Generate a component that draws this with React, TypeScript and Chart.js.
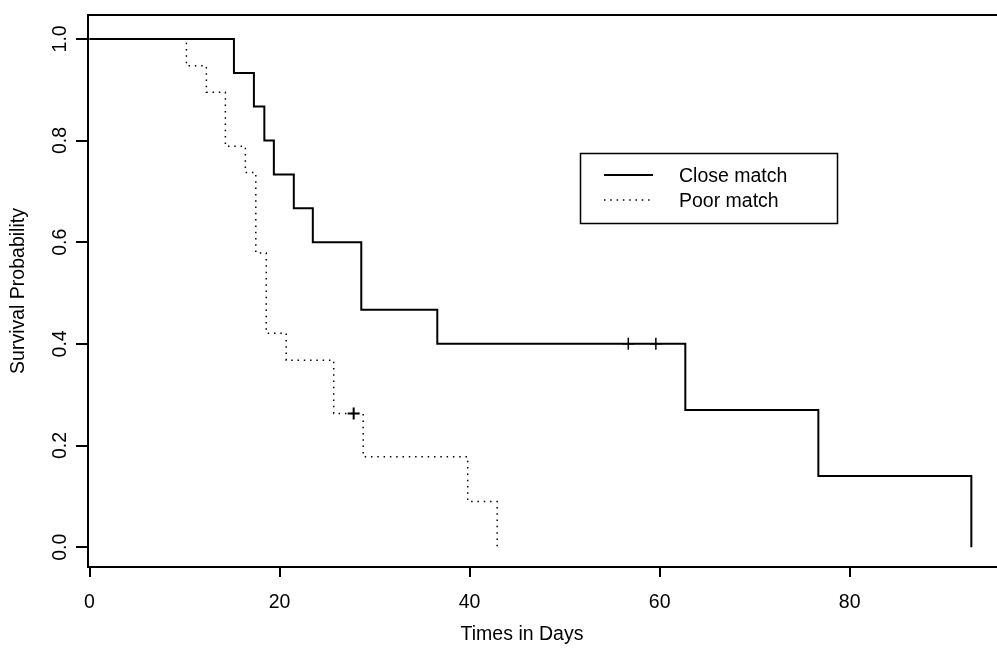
import React, { useEffect, useRef } from 'react';
import { Chart, registerables } from 'chart.js';

Chart.register(...registerables);

// ---- data ----
const seriesLabels = ['Close match', 'Poor match'];

const closeTimes = [0, 15.2, 17.3, 18.4, 19.4, 21.5, 23.5, 28.6, 36.6, 62.7, 76.7, 92.8];
const closeSurv = [1.0, 0.933, 0.867, 0.8, 0.733, 0.667, 0.6, 0.467, 0.4, 0.27, 0.14, 0.0];
const closeCensorTimes = [56.7, 59.6];
const closeCensorSurv = [0.4, 0.4];

const poorTimes = [0, 10.2, 12.3, 14.3, 16.4, 17.5, 18.6, 20.7, 25.7, 28.8, 39.8, 42.9];
const poorSurv = [1.0, 0.947, 0.895, 0.789, 0.737, 0.579, 0.421, 0.368, 0.263, 0.178, 0.09, 0.0];
const poorCensorTimes = [27.8];
const poorCensorSurv = [0.263];

const xTicks = [0, 20, 40, 60, 80];
const yTicks = [0, 0.2, 0.4, 0.6, 0.8, 1.0];
const xTitle = 'Times in Days';
const yTitle = 'Survival Probability';

const FONT = '"Liberation Sans", Arial, Helvetica, sans-serif';
const FSIZE = 19.5;

const pts = (xs: number[], ys: number[]) => xs.map((x, i) => ({ x, y: ys[i] }));

const framePlugin = {
  id: 'kmFrame',
  afterDatasetsDraw(chart: any) {
    const { ctx, chartArea } = chart;
    const ds = chart.data.datasets;
    ctx.save();
    // top border of the plot box
    ctx.strokeStyle = '#000';
    ctx.lineWidth = 2;
    ctx.setLineDash([]);
    ctx.beginPath();
    ctx.moveTo(chartArea.left, chartArea.top);
    ctx.lineTo(chartArea.right, chartArea.top);
    ctx.stroke();

    // legend box
    ctx.lineWidth = 1.5;
    ctx.strokeRect(580.5, 153.5, 257, 70);
    const rowY = [175, 200];
    [0, 1].forEach((i) => {
      const d = ds[i];
      ctx.save();
      ctx.lineWidth = d.borderWidth;
      ctx.setLineDash(d.borderDash || []);
      ctx.strokeStyle = d.borderColor;
      ctx.beginPath();
      ctx.moveTo(604, rowY[i]);
      ctx.lineTo(653, rowY[i]);
      ctx.stroke();
      ctx.restore();
      ctx.fillStyle = '#000';
      ctx.font = `${FSIZE}px ${FONT}`;
      ctx.textBaseline = 'middle';
      ctx.textAlign = 'left';
      ctx.fillText(d.label, 679, rowY[i] + 2);
    });

    // x-axis title (centred where the original places it)
    ctx.font = `${FSIZE}px ${FONT}`;
    ctx.textAlign = 'center';
    ctx.textBaseline = 'middle';
    ctx.fillText(xTitle, 522, 635);
    ctx.restore();
  },
};

export default function App() {
  const ref = useRef<HTMLCanvasElement | null>(null);

  useEffect(() => {
    if (!ref.current) return;
    const chart = new Chart(ref.current, {
      type: 'line',
      data: {
        datasets: [
          {
            label: seriesLabels[0],
            data: pts(closeTimes, closeSurv),
            stepped: 'before',
            borderColor: '#000',
            borderWidth: 2,
            pointRadius: 0,
            fill: false,
          },
          {
            label: seriesLabels[1],
            data: pts(poorTimes, poorSurv),
            stepped: 'before',
            borderColor: '#000',
            borderWidth: 1.5,
            borderDash: [1.5, 4.8],
            borderCapStyle: 'butt',
            pointRadius: 0,
            fill: false,
          },
          {
            label: 'Close censored',
            data: pts(closeCensorTimes, closeCensorSurv),
            showLine: false,
            pointStyle: 'cross',
            pointRadius: 6,
            borderColor: '#000',
            borderWidth: 1.5,
          },
          {
            label: 'Poor censored',
            data: pts(poorCensorTimes, poorCensorSurv),
            showLine: false,
            pointStyle: 'cross',
            pointRadius: 6,
            borderColor: '#000',
            borderWidth: 2,
          },
        ],
      } as any,
      options: {
        animation: false,
        responsive: false,
        maintainAspectRatio: false,
        layout: { autoPadding: false, padding: { top: 15, right: 0, left: 0, bottom: 0 } },
        plugins: { legend: { display: false }, tooltip: { enabled: false } },
        scales: {
          x: {
            type: 'linear',
            min: -0.158,
            max: 95.5,
            afterBuildTicks: (s: any) => {
              s.ticks = xTicks.map((v) => ({ value: v }));
            },
            afterFit: (s: any) => {
              s.height = 83;
              s.paddingLeft = 0;
              s.paddingRight = 0;
            },
            ticks: {
              color: '#000',
              font: { family: FONT, size: FSIZE },
              padding: 14,
              maxRotation: 0,
              callback: (v: any) => String(v),
            },
            grid: { drawOnChartArea: false, drawTicks: true, tickLength: 10, color: '#000', lineWidth: 2 },
            border: { display: true, color: '#000', width: 2 },
            title: { display: false, text: xTitle },
          },
          y: {
            type: 'linear',
            min: -0.039,
            max: 1.047,
            afterBuildTicks: (s: any) => {
              s.ticks = yTicks.map((v) => ({ value: v }));
            },
            afterFit: (s: any) => {
              s.width = 88;
              s.paddingTop = 0;
              s.paddingBottom = 0;
            },
            ticks: {
              color: '#000',
              font: { family: FONT, size: FSIZE },
              padding: 2,
              minRotation: 90,
              maxRotation: 90,
              crossAlign: 'center',
              callback: (v: any) => Number(v).toFixed(1),
            },
            grid: { drawOnChartArea: false, drawTicks: true, tickLength: 12, color: '#000', lineWidth: 2 },
            border: { display: true, color: '#000', width: 2 },
            title: {
              display: true,
              text: yTitle,
              color: '#000',
              font: { family: FONT, size: FSIZE },
              padding: { top: 7, bottom: 4 },
            },
          },
        },
      } as any,
      plugins: [framePlugin],
    });
    return () => chart.destroy();
  }, []);

  return (
    <div style={{ position: 'fixed', left: 0, top: 0, width: 997, height: 650, background: '#fff' }}>
      <canvas ref={ref} width={997} height={650} style={{ display: 'block' }} />
    </div>
  );
}
